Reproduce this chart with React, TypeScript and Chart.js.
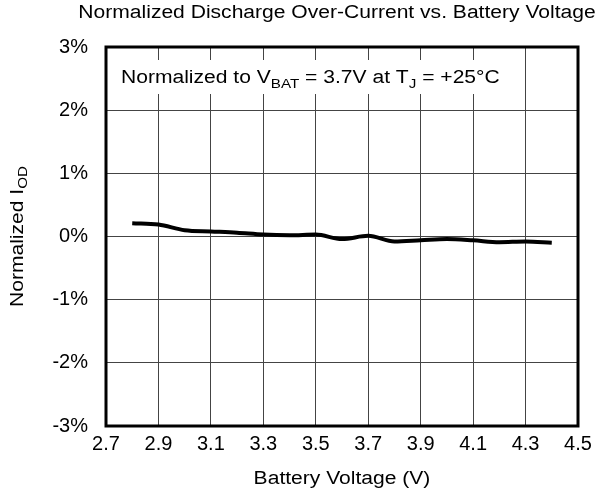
import { useEffect, useRef } from 'react';
import { Chart, registerables } from 'chart.js';

Chart.register(...registerables);

const FONT = '"Liberation Sans", Arial, sans-serif';

// Data
const voltages = [2.8, 2.9, 3.0, 3.1, 3.2, 3.3, 3.4, 3.5, 3.6, 3.7, 3.8, 3.9, 4.0, 4.1, 4.2, 4.3, 4.4];
const normalizedIod = [0.21, 0.19, 0.10, 0.08, 0.06, 0.03, 0.02, 0.03, -0.04, 0.01, -0.08, -0.06, -0.04, -0.06, -0.09, -0.08, -0.10];

const xMin = 2.7;
const xMax = 4.5;
const xStep = 0.2;
const yMin = -3;
const yMax = 3;
const yStep = 1;

const chartTitle = 'Normalized Discharge Over-Current vs. Battery Voltage';
const xTitle = 'Battery Voltage (V)';
const yTitleMain = 'Normalized I';
const yTitleSub = 'OD';
const notePieces: { t: string; sub: boolean }[] = [
  { t: 'Normalized to V', sub: false },
  { t: 'BAT', sub: true },
  { t: ' = 3.7V at T', sub: false },
  { t: 'J', sub: true },
  { t: ' = +25\u00B0C', sub: false },
];

const STRETCH = 1.17;

const decorPlugin = {
  id: 'decor',
  beforeDatasetsDraw(chart: any) {
    const { ctx, chartArea } = chart;
    const { left, right, top, bottom } = chartArea;
    ctx.save();
    // white box behind the note
    ctx.fillStyle = '#ffffff';
    ctx.fillRect(left + 2, 60, 398, 34);
    // note text
    ctx.fillStyle = '#000';
    ctx.textBaseline = 'alphabetic';
    ctx.textAlign = 'left';
    ctx.translate(121, 83);
    ctx.scale(STRETCH, 1);
    let x = 0;
    for (const p of notePieces) {
      ctx.font = p.sub ? `13px ${FONT}` : `18px ${FONT}`;
      ctx.fillText(p.t, x, p.sub ? 5 : 0);
      x += ctx.measureText(p.t).width;
    }
    ctx.restore();
  },
  afterDraw(chart: any) {
    const { ctx, chartArea } = chart;
    const { left, right, top, bottom } = chartArea;
    ctx.save();
    // frame
    ctx.strokeStyle = '#000';
    ctx.lineWidth = 3;
    ctx.strokeRect(left, top, right - left, bottom - top);
    ctx.fillStyle = '#000';
    // chart title
    ctx.save();
    ctx.font = `18px ${FONT}`;
    ctx.textAlign = 'center';
    ctx.textBaseline = 'middle';
    ctx.translate(337, 13);
    ctx.scale(STRETCH, 1);
    ctx.fillText(chartTitle, 0, 0);
    ctx.restore();
    // x title
    ctx.save();
    ctx.font = `18px ${FONT}`;
    ctx.textAlign = 'center';
    ctx.textBaseline = 'middle';
    ctx.translate((left + right) / 2, 479);
    ctx.scale(STRETCH, 1);
    ctx.fillText(xTitle, 0, 0);
    ctx.restore();
    // y title
    ctx.save();
    ctx.translate(18, (top + bottom) / 2);
    ctx.rotate(-Math.PI / 2);
    ctx.scale(STRETCH, 1);
    ctx.textAlign = 'left';
    ctx.textBaseline = 'middle';
    ctx.font = `18px ${FONT}`;
    const w1 = ctx.measureText(yTitleMain).width;
    ctx.font = `13px ${FONT}`;
    const w2 = ctx.measureText(yTitleSub).width;
    const start = -(w1 + w2) / 2;
    ctx.font = `18px ${FONT}`;
    ctx.fillText(yTitleMain, start, 0);
    ctx.font = `13px ${FONT}`;
    ctx.fillText(yTitleSub, start + w1, 5);
    ctx.restore();
    ctx.restore();
  },
};

export default function App() {
  const canvasRef = useRef<HTMLCanvasElement | null>(null);

  useEffect(() => {
    if (!canvasRef.current) return;
    const chart = new Chart(canvasRef.current, {
      type: 'line',
      data: {
        datasets: [
          {
            data: voltages.map((v, i) => ({ x: v, y: normalizedIod[i] })),
            borderColor: '#000',
            borderWidth: 4,
            pointRadius: 0,
            fill: false,
            tension: 0.4,
            cubicInterpolationMode: 'monotone',
          },
        ],
      },
      options: {
        animation: false,
        responsive: true,
        maintainAspectRatio: false,
        layout: { padding: { top: 47, right: 23, left: 0, bottom: 0 } },
        plugins: {
          legend: { display: false },
          title: { display: false },
          tooltip: { enabled: false },
        },
        scales: {
          x: {
            type: 'linear',
            min: xMin,
            max: xMax,
            afterFit(scale: any) {
              scale.height = 74;
            },
            ticks: {
              stepSize: xStep,
              color: '#000',
              font: { family: FONT, size: 20 },
              padding: 6,
              maxRotation: 0,
              autoSkip: false,
              callback: (v: any) => Number(v).toFixed(1),
            },
            grid: { color: '#444', lineWidth: 1, drawTicks: false },
            border: { display: false },
          },
          y: {
            type: 'linear',
            min: yMin,
            max: yMax,
            afterFit(scale: any) {
              scale.width = 106;
            },
            ticks: {
              stepSize: yStep,
              color: '#000',
              font: { family: FONT, size: 20 },
              padding: 18,
              callback: (v: any) => `${Math.round(Number(v))}%`,
            },
            grid: { color: '#444', lineWidth: 1, drawTicks: false },
            border: { display: false },
          },
        },
      },
      plugins: [decorPlugin],
    });
    return () => chart.destroy();
  }, []);

  return (
    <div style={{ position: 'fixed', left: 0, top: 0, width: 601, height: 500, background: '#fff' }}>
      <canvas ref={canvasRef} />
    </div>
  );
}
